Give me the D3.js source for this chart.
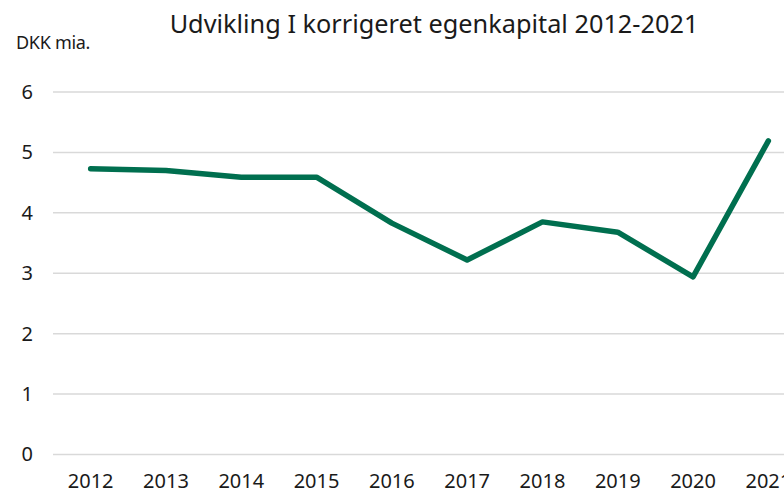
<!DOCTYPE html>
<html>
<head>
<meta charset="utf-8">
<script src="https://cdn.jsdelivr.net/npm/d3@7"></script>
<style>
  body { margin: 0; background: #fff; overflow: hidden; }
  svg { display: block; font-family: "Noto Sans", sans-serif; }
</style>
</head>
<body>
<div id="chart"></div>
<script>
const years = ["2012", "2013", "2014", "2015", "2016", "2017", "2018", "2019", "2020", "2021"];
const equity = [4.73, 4.7, 4.59, 4.59, 3.83, 3.22, 3.85, 3.68, 2.94, 5.19];
const yTicks = [0, 1, 2, 3, 4, 5, 6];
const title = "Udvikling I korrigeret egenkapital 2012-2021";
const unit = "DKK mia.";

const width = 784;
const height = 494;
const padding = { t: 92, b: 454.5, s: 53, e: 806 };

const svg = d3.select("#chart").append("svg").attr("width", width).attr("height", height);

const xScale = d3.scaleBand().domain(years).range([padding.s, padding.e]);
const yScale = d3.scaleLinear().domain([0, 6]).range([padding.b, padding.t]);

// gridlines
svg
  .append("g")
  .selectAll("line")
  .data(yTicks)
  .join("line")
  .attr("x1", padding.s)
  .attr("x2", padding.e)
  .attr("y1", (d) => yScale(d))
  .attr("y2", (d) => yScale(d))
  .attr("stroke", "#d9d9d9")
  .attr("stroke-width", 1.5);

// y axis labels
const yAxis = svg
  .append("g")
  .attr("transform", `translate(${padding.s - 20}, 0)`)
  .call(d3.axisLeft(yScale).tickValues(yTicks).tickFormat(d3.format("d")).tickSize(0).tickPadding(0));
yAxis.select(".domain").remove();
yAxis.selectAll("text").attr("font-size", 20).attr("fill", "#1a1a1a").attr("font-family", "Noto Sans");

// x axis labels (2021 runs off the right edge as in the original)
const xAxis = svg
  .append("g")
  .attr("transform", `translate(0, ${padding.b + 19})`)
  .call(d3.axisBottom(xScale).tickSize(0).tickPadding(0));
xAxis.select(".domain").remove();
xAxis.selectAll("text").attr("font-size", 20).attr("fill", "#1a1a1a").attr("font-family", "Noto Sans");

// line
const line = d3
  .line()
  .x((d, i) => xScale(years[i]) + xScale.bandwidth() / 2)
  .y((d) => yScale(d));

svg
  .append("path")
  .datum(equity)
  .attr("d", line)
  .attr("fill", "none")
  .attr("stroke", "#006f4f")
  .attr("stroke-width", 5.5)
  .attr("stroke-linejoin", "round")
  .attr("stroke-linecap", "round");

// title and unit
svg
  .append("text")
  .text(title)
  .attr("x", 434)
  .attr("y", 33)
  .attr("text-anchor", "middle")
  .attr("font-size", 25.3)
  .attr("fill", "#1a1a1a");

svg
  .append("text")
  .text(unit)
  .attr("x", 16)
  .attr("y", 49)
  .attr("font-size", 18)
  .attr("letter-spacing", -0.3)
  .attr("fill", "#1a1a1a");
</script>
</body>
</html>
